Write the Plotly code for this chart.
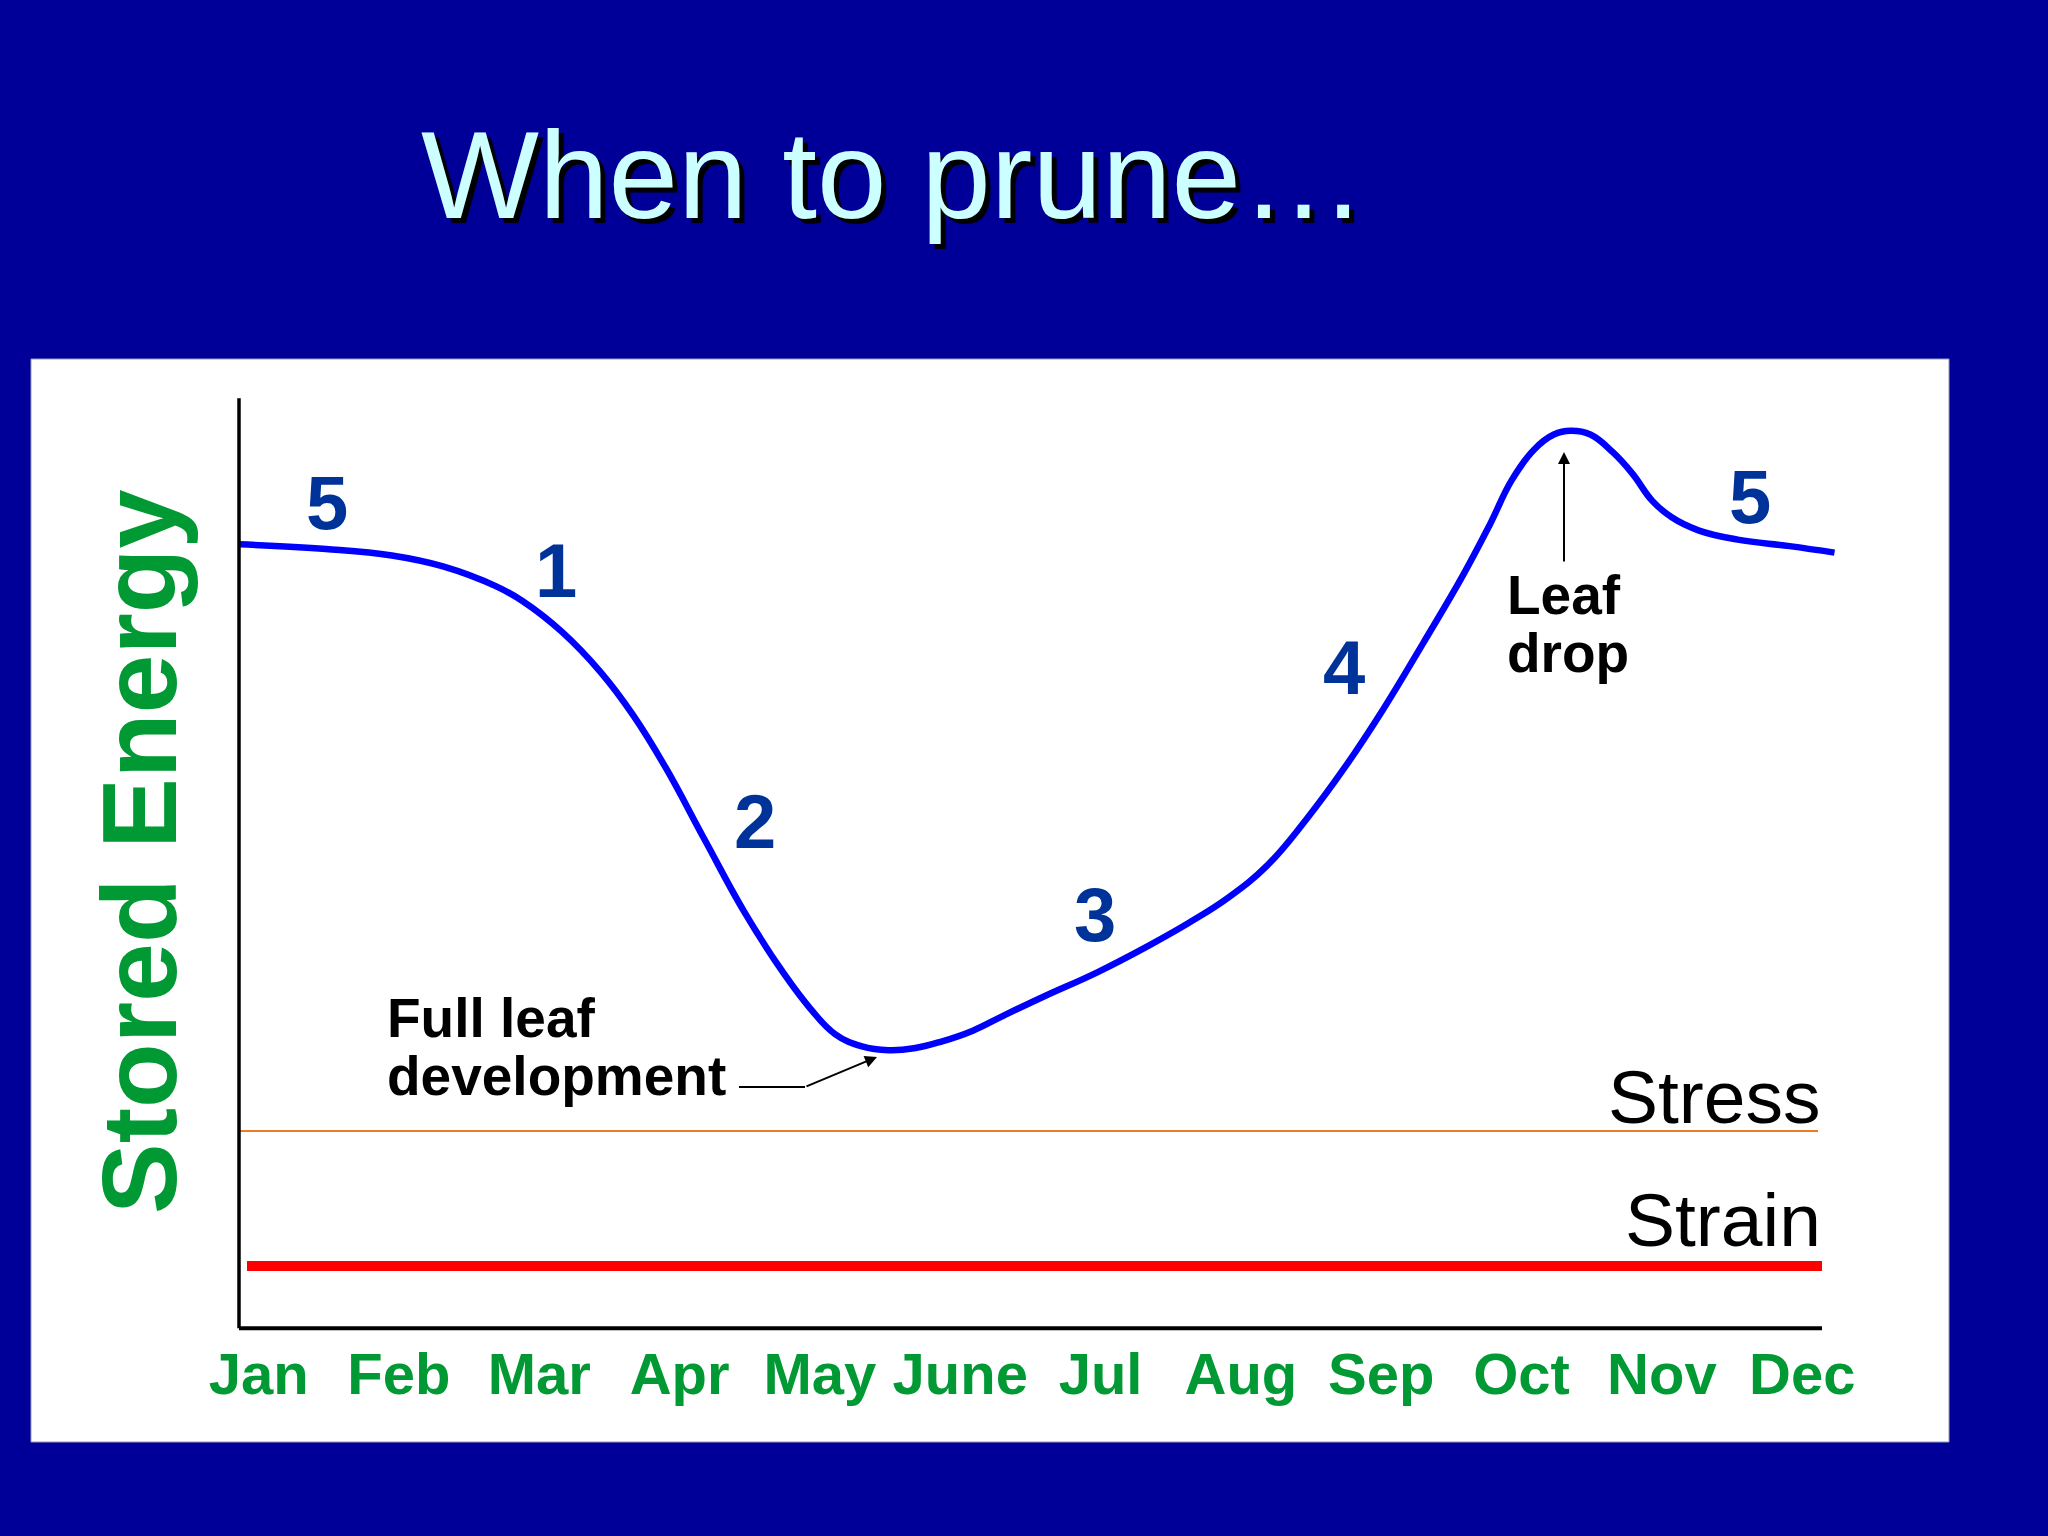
import plotly.graph_objects as go

# ---------------- data ----------------
months = ["Jan", "Feb", "Mar", "Apr", "May", "June", "Jul", "Aug", "Sep", "Oct", "Nov", "Dec"]
month_pos = list(range(12))

# stored-energy curve (x in months, Jan = 0; y in energy units, 0 = x axis, 100 = top of y axis)
curve_month = [-0.14, 0.48, 0.95, 1.32, 1.69, 1.88, 2.16, 2.44, 2.67, 2.90, 3.18, 3.46, 3.74,
               3.93, 4.11, 4.30, 4.49, 4.67, 4.86, 5.09, 5.32, 5.60, 5.98, 6.35, 6.63, 6.91,
               7.19, 7.46, 7.74, 8.02, 8.30, 8.58, 8.77, 8.93, 9.09, 9.23, 9.35, 9.49, 9.65,
               9.79, 9.93, 10.07, 10.26, 10.54, 10.91, 11.23]
curve_energy = [84.3, 83.8, 83.1, 81.9, 79.8, 78.2, 74.9, 70.5, 65.9, 60.3, 52.5, 44.8, 38.2,
                34.4, 31.6, 30.3, 29.9, 30.1, 30.8, 32.0, 33.7, 35.7, 38.3, 41.2, 43.6, 46.3,
                49.8, 54.6, 60.3, 66.7, 73.7, 80.9, 86.3, 91.2, 94.5, 96.1, 96.5, 96.1, 94.2,
                91.9, 89.0, 87.2, 85.8, 84.8, 84.1, 83.4]

stress_level = 21.2
strain_level = 6.7

zone_labels = ["5", "1", "2", "3", "4", "5"]
title_text = "When to prune\u2026"
y_title = "Stored Energy"
stress_text = "Stress"
strain_text = "Strain"

# ---------------- geometry ----------------
W, H = 2048, 1536
X0_PX, X_STEP = 258.6, 140.33   # pixel of Jan, pixels per month
Y0_PX, Y_STEP = 1328.2, 9.299   # pixel of zero energy, pixels per unit

def mx(p):  # pixel x -> month coordinate
    return (p - X0_PX) / X_STEP

def px(p):  # pixel x -> paper
    return p / W

def py(p):  # pixel y -> paper
    return 1 - p / H

x_range = [mx(0), mx(W)]
y_range = [(Y0_PX - H) / Y_STEP, Y0_PX / Y_STEP]

FONT = "Liberation Sans, Arial, Helvetica, sans-serif"
GREEN = "#009933"
NUMBLUE = "#003399"

fig = go.Figure()

fig.add_trace(go.Scatter(
    x=[mx(239), mx(1818)], y=[stress_level, stress_level], mode="lines",
    line=dict(color="#EE7B22", width=2), hoverinfo="skip"))
fig.add_trace(go.Scatter(
    x=[mx(247), mx(1822)], y=[strain_level, strain_level], mode="lines",
    line=dict(color="#FF0000", width=10), hoverinfo="skip"))
fig.add_trace(go.Scatter(
    x=curve_month, y=curve_energy, mode="lines",
    line=dict(color="#0000FF", width=6.5, shape="spline", smoothing=1.2), hoverinfo="skip"))

shapes = [
    dict(type="rect", xref="paper", yref="paper", x0=px(31), x1=px(1949), y0=py(1442), y1=py(359),
         fillcolor="white", line=dict(color="#9999BB", width=1), layer="below"),
    dict(type="line", xref="x", yref="y", x0=mx(239), x1=mx(239), y0=0, y1=100,
         line=dict(color="black", width=3.5)),
    dict(type="line", xref="x", yref="y", x0=mx(239), x1=mx(1822), y0=0, y1=0,
         line=dict(color="black", width=4)),
    dict(type="line", xref="paper", yref="paper", x0=px(739), x1=px(805), y0=py(1087), y1=py(1087),
         line=dict(color="black", width=2)),
]

annotations = [
    dict(text=title_text, xref="paper", yref="paper", x=px(893), y=py(174), showarrow=False,
         xanchor="center", yanchor="middle",
         font=dict(family=FONT, size=125, color="#CCFFFF", shadow="5px 5px 1px #000000")),
    dict(text=y_title, xref="paper", yref="paper", x=px(139), y=py(852), showarrow=False,
         textangle=-90, xanchor="center", yanchor="middle",
         font=dict(family=FONT, size=106, color=GREEN, weight="bold")),
    dict(text=stress_text, xref="paper", yref="paper", x=px(1823), y=py(1097), showarrow=False,
         xanchor="right", yanchor="middle", font=dict(family=FONT, size=75, color="black")),
    dict(text=strain_text, xref="paper", yref="paper", x=px(1823), y=py(1220), showarrow=False,
         xanchor="right", yanchor="middle", font=dict(family=FONT, size=75, color="black")),
    dict(text="Leaf", xref="paper", yref="paper", x=px(1505), y=py(595), showarrow=False,
         xanchor="left", yanchor="middle", font=dict(family=FONT, size=55, color="black", weight="bold")),
    dict(text="drop", xref="paper", yref="paper", x=px(1505), y=py(653), showarrow=False,
         xanchor="left", yanchor="middle", font=dict(family=FONT, size=55, color="black", weight="bold")),
    dict(text="Full leaf", xref="paper", yref="paper", x=px(385), y=py(1018), showarrow=False,
         xanchor="left", yanchor="middle", font=dict(family=FONT, size=55, color="black", weight="bold")),
    dict(text="development", xref="paper", yref="paper", x=px(385), y=py(1076), showarrow=False,
         xanchor="left", yanchor="middle", font=dict(family=FONT, size=55, color="black", weight="bold")),
    # arrows
    dict(text="", xref="paper", yref="paper", x=px(1564), y=py(452), ax=0, ay=111,
         showarrow=True, arrowhead=2, arrowsize=1.2, arrowwidth=2, arrowcolor="black"),
    dict(text="", xref="paper", yref="paper", x=px(877), y=py(1057), ax=-72, ay=30,
         showarrow=True, arrowhead=2, arrowsize=1.2, arrowwidth=2, arrowcolor="black"),
]

zone_pos = [(327, 503), (556, 570), (755, 821), (1095, 914), (1344, 668), (1750, 497)]
for lab, (x, y) in zip(zone_labels, zone_pos):
    annotations.append(dict(text=lab, xref="paper", yref="paper", x=px(x), y=py(y), showarrow=False,
                            xanchor="center", yanchor="middle",
                            font=dict(family=FONT, size=76, color=NUMBLUE, weight="bold")))

fig.update_layout(
    width=W, height=H, margin=dict(l=0, r=0, t=0, b=0),
    paper_bgcolor="#000099", plot_bgcolor="rgba(0,0,0,0)",
    showlegend=False, shapes=shapes, annotations=annotations,
    xaxis=dict(range=x_range, domain=[0, 1], anchor="free", position=1 - 1328 / H,
               tickmode="array", tickvals=month_pos, ticktext=months,
               tickfont=dict(family=FONT, size=58, color=GREEN, weight="bold"),
               ticklabelstandoff=7,
               showgrid=False, zeroline=False, showline=False, ticks="", fixedrange=True),
    yaxis=dict(range=y_range, domain=[0, 1], visible=False, fixedrange=True),
)

fig.write_html(
    "out.html",
    config={"displayModeBar": False},
    post_script="document.body.style.margin='0';document.body.style.background='#000099';"
                "document.documentElement.style.overflow='hidden';",
)
